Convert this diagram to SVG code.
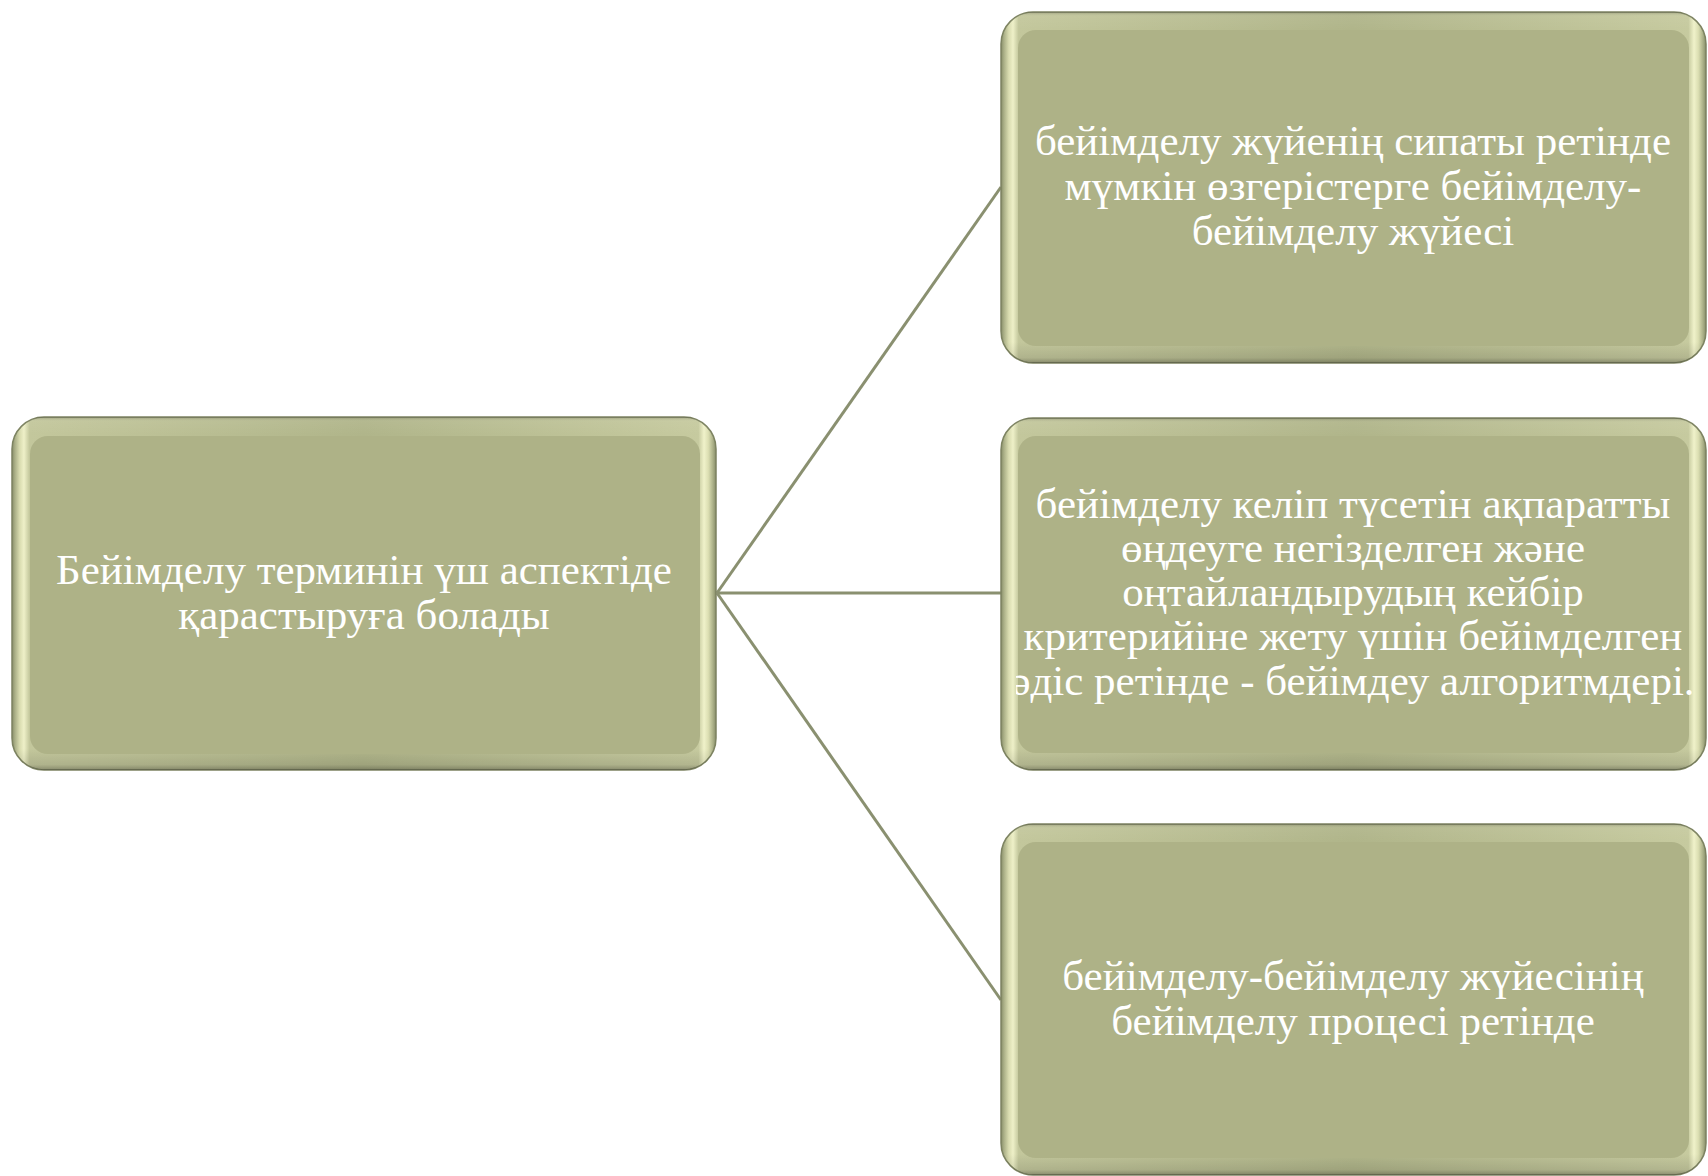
<svg xmlns="http://www.w3.org/2000/svg" width="1708" height="1176" viewBox="0 0 1708 1176">
  <defs>
    <linearGradient id="bvH" x1="0" y1="0" x2="1" y2="0">
      <stop offset="0" stop-color="#868c68"/>
      <stop offset="0.004" stop-color="#a9ae86"/>
      <stop offset="0.011" stop-color="#d9dcb0"/>
      <stop offset="0.017" stop-color="#eef0c8"/>
      <stop offset="0.025" stop-color="#c3c79c"/>
      <stop offset="0.5" stop-color="#b0b58a"/>
      <stop offset="0.975" stop-color="#c6ca9f"/>
      <stop offset="0.983" stop-color="#f0f2ca"/>
      <stop offset="0.989" stop-color="#dcdfb3"/>
      <stop offset="0.996" stop-color="#a9ae86"/>
      <stop offset="1" stop-color="#868c68"/>
    </linearGradient>
    <linearGradient id="bvV" x1="0" y1="0" x2="0" y2="1">
      <stop offset="0" stop-color="#000" stop-opacity="0.2"/>
      <stop offset="0.012" stop-color="#fff" stop-opacity="0.05"/>
      <stop offset="0.05" stop-color="#fff" stop-opacity="0"/>
      <stop offset="0.94" stop-color="#000" stop-opacity="0"/>
      <stop offset="0.985" stop-color="#000" stop-opacity="0.1"/>
      <stop offset="1" stop-color="#000" stop-opacity="0.3"/>
    </linearGradient>
    <clipPath id="midClip">
      <rect x="1016" y="430" width="676" height="325"/>
    </clipPath>
  </defs>
  <style>
    .outer { fill: url(#bvH); stroke: #7d8361; stroke-width: 1.5; }
    .shade { fill: url(#bvV); }
    .face { fill: #aeb287; }
    .conn { stroke: #8a9070; stroke-width: 3; fill: none; }
    text { font-family: "Liberation Serif", "Times New Roman", serif; font-size: 43px; fill: #ffffff; text-anchor: middle; }
  </style>
  <rect width="1708" height="1176" fill="#ffffff"/>

  <g id="connectors">
    <line class="conn" x1="717" y1="593" x2="1001" y2="187"/>
    <line class="conn" x1="717" y1="593" x2="1001" y2="593"/>
    <line class="conn" x1="717" y1="593" x2="1001" y2="1000"/>
  </g>

  <g id="node-root">
    <rect class="outer" x="12" y="417" width="704" height="353" rx="32"/>
    <rect class="shade" x="12" y="417" width="704" height="353" rx="32"/>
    <rect class="face" x="30" y="436" width="670" height="318" rx="18"/>
    <text x="364" y="584">Бейімделу терминін үш аспектіде</text>
    <text x="364" y="629">қарастыруға болады</text>
  </g>

  <g id="node-1">
    <rect class="outer" x="1001" y="12" width="705" height="351" rx="32"/>
    <rect class="shade" x="1001" y="12" width="705" height="351" rx="32"/>
    <rect class="face" x="1018" y="30" width="671" height="316" rx="18"/>
    <text x="1353" y="155">бейімделу жүйенің сипаты ретінде</text>
    <text x="1353" y="200">мүмкін өзгерістерге бейімделу-</text>
    <text x="1353" y="245">бейімделу жүйесі</text>
  </g>

  <g id="node-2">
    <rect class="outer" x="1001" y="418" width="705" height="352" rx="32"/>
    <rect class="shade" x="1001" y="418" width="705" height="352" rx="32"/>
    <rect class="face" x="1018" y="436" width="671" height="317" rx="18"/>
    <g clip-path="url(#midClip)">
      <text x="1353" y="518">бейімделу келіп түсетін ақпаратты</text>
      <text x="1353" y="562">өңдеуге негізделген және</text>
      <text x="1353" y="606">оңтайландырудың кейбір</text>
      <text x="1353" y="650">критерийіне жету үшін бейімделген</text>
      <text x="1353" y="695">әдіс ретінде - бейімдеу алгоритмдері.</text>
    </g>
  </g>

  <g id="node-3">
    <rect class="outer" x="1001" y="824" width="705" height="351" rx="32"/>
    <rect class="shade" x="1001" y="824" width="705" height="351" rx="32"/>
    <rect class="face" x="1018" y="842" width="671" height="316" rx="18"/>
    <text x="1353" y="990">бейімделу-бейімделу жүйесінің</text>
    <text x="1353" y="1035">бейімделу процесі ретінде</text>
  </g>
</svg>
